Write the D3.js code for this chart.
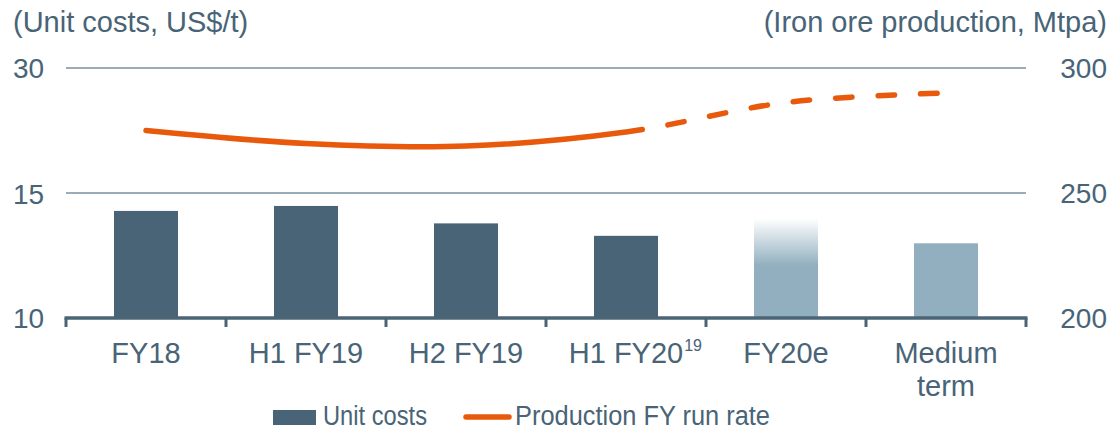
<!DOCTYPE html>
<html>
<head>
<meta charset="utf-8">
<script src="https://cdn.jsdelivr.net/npm/d3@7"></script>
<style>
  html, body { margin: 0; padding: 0; background: #fff; }
  svg { display: block; font-family: "Liberation Sans", Arial, sans-serif; }
</style>
</head>
<body>
<svg id="chart" width="1112" height="430"></svg>
<script>
// ---- data ----
const categories = ["FY18", "H1 FY19", "H2 FY19", "H1 FY20", "FY20e", "Medium term"];
const categoryLines = [["FY18"], ["H1 FY19"], ["H2 FY19"], ["H1 FY20"], ["FY20e"], ["Medium", "term"]];
const footnotes = ["", "", "", "19", "", ""];
const unitCosts = [14.3, 14.5, 13.8, 13.3, 14.0, 13.0];
const barKinds = ["actual", "actual", "actual", "actual", "estimate", "target"];
const estimateSolidUpTo = 12.1;          // FY20e bar fades out above this value
const production = [275, 269.8, 268.8, 274.4, 286.2, 290];
const productionDashedFrom = 3;          // index where the forecast (dashed) part starts
const leftTicks = [10, 15, 30];
const rightTicks = [200, 250, 300];
const leftTitle = "(Unit costs, US$/t)";
const rightTitle = "(Iron ore production, Mtpa)";
const legendItems = ["Unit costs", "Production FY run rate"];

// ---- styles ----
const textColor = "#486476";
const gridColor = "#7890a0";
const axisColor = "#4b6577";
const darkBar = "#486476";
const lightBar = "#91afbf";
const orange = "#e8590c";

const svg = d3.select("#chart");
const pLeft = 66, pRight = 1026, pTop = 68, pBottom = 318;

const x = d3.scaleBand().domain(categories).range([pLeft, pRight]).paddingInner(0.6).paddingOuter(0.3);
const xEdges = d3.scaleBand().domain(categories).range([pLeft, pRight]).padding(0);
const yL = d3.scaleLinear().domain(leftTicks).range([pBottom, 193.5, pTop]);
const yR = d3.scaleLinear().domain([rightTicks[0], rightTicks[rightTicks.length - 1]]).range([pBottom, pTop]);

// gradient for estimate bar
const defs = svg.append("defs");
const grad = defs.append("linearGradient").attr("id", "fade")
  .attr("gradientUnits", "userSpaceOnUse")
  .attr("x1", 0).attr("x2", 0)
  .attr("y1", yL(unitCosts[barKinds.indexOf("estimate")]))
  .attr("y2", yL(estimateSolidUpTo));
grad.append("stop").attr("offset", 0).attr("stop-color", lightBar).attr("stop-opacity", 0);
grad.append("stop").attr("offset", 1).attr("stop-color", lightBar).attr("stop-opacity", 1);

// gridlines (not the baseline)
svg.append("g").selectAll("line").data(rightTicks.slice(1)).join("line")
  .attr("x1", pLeft).attr("x2", pRight)
  .attr("y1", d => yR(d)).attr("y2", d => yR(d))
  .attr("stroke", gridColor).attr("stroke-width", 1.5);

// bars
svg.append("g").selectAll("rect").data(categories).join("rect")
  .attr("x", d => x(d))
  .attr("width", x.bandwidth())
  .attr("y", (d, i) => yL(unitCosts[i]))
  .attr("height", (d, i) => yL(leftTicks[0]) - yL(unitCosts[i]))
  .attr("fill", (d, i) => barKinds[i] === "actual" ? darkBar : barKinds[i] === "estimate" ? "url(#fade)" : lightBar);

// x axis line and ticks
const xAxis = svg.append("g");
xAxis.append("line").attr("x1", pLeft - 1.5).attr("x2", pRight + 1.5)
  .attr("y1", pBottom).attr("y2", pBottom)
  .attr("stroke", axisColor).attr("stroke-width", 3.5);
const edges = categories.map(c => xEdges(c)).concat([pRight]);
xAxis.selectAll("line.tick").data(edges).join("line").attr("class", "tick")
  .attr("x1", d => d).attr("x2", d => d)
  .attr("y1", pBottom).attr("y2", pBottom + 9)
  .attr("stroke", axisColor).attr("stroke-width", 3);

// x labels
const labels = svg.append("g").attr("fill", textColor).attr("font-size", 29);
categories.forEach((c, i) => {
  const cx = xEdges(c) + xEdges.bandwidth() / 2;
  const t = labels.append("text").attr("x", cx).attr("y", 363).attr("text-anchor", "middle");
  categoryLines[i].forEach((line, j) => {
    t.append("tspan").attr("x", cx).attr("dy", j === 0 ? 0 : 33).text(line);
  });
  if (footnotes[i]) {
    const w = t.node().getComputedTextLength();
    labels.append("text").attr("x", cx + w / 2 + 1).attr("y", 351)
      .attr("font-size", 16).text(footnotes[i]);
  }
});

// y tick labels
svg.append("g").attr("fill", textColor).attr("font-size", 28)
  .selectAll("text").data(leftTicks).join("text")
  .attr("x", 13).attr("y", d => yL(d) + 10).text(d => d);
svg.append("g").attr("fill", textColor).attr("font-size", 28).attr("text-anchor", "end")
  .selectAll("text").data(rightTicks).join("text")
  .attr("x", 1107).attr("y", d => yR(d) + 10).text(d => d);

// axis titles
svg.append("text").attr("x", 13).attr("y", 32).attr("fill", textColor).attr("font-size", 29).text(leftTitle);
svg.append("text").attr("x", 1107).attr("y", 32).attr("text-anchor", "end").attr("fill", textColor).attr("font-size", 29).text(rightTitle);

// production line
const cxOf = i => xEdges(categories[i]) + xEdges.bandwidth() / 2;
const lineGen = d3.line().x((d, i) => cxOf(i)).y(d => yR(d)).curve(d3.curveCatmullRom.alpha(0.5));
const splitX = cxOf(productionDashedFrom);
defs.append("clipPath").attr("id", "clipSolid").append("rect")
  .attr("x", 0).attr("y", 0).attr("width", splitX).attr("height", 430);
defs.append("clipPath").attr("id", "clipDash").append("rect")
  .attr("x", splitX).attr("y", 0).attr("width", 1112 - splitX).attr("height", 430);

const solid = svg.append("path").datum(production).attr("d", lineGen)
  .attr("fill", "none").attr("stroke", orange).attr("stroke-width", 5.5)
  .attr("stroke-linecap", "round").attr("clip-path", "url(#clipSolid)");

// find path length at splitX
const node = solid.node();
const total = node.getTotalLength();
let lo = 0, hi = total;
for (let k = 0; k < 40; k++) {
  const mid = (lo + hi) / 2;
  if (node.getPointAtLength(mid).x < splitX) lo = mid; else hi = mid;
}
svg.append("path").datum(production).attr("d", lineGen)
  .attr("fill", "none").attr("stroke", orange).attr("stroke-width", 5.5)
  .attr("stroke-linecap", "round")
  .attr("stroke-dasharray", "16.5 26")
  .attr("stroke-dashoffset", -lo)
  .attr("clip-path", "url(#clipDash)");

// legend
const lg = svg.append("g");
lg.append("rect").attr("x", 273).attr("y", 410).attr("width", 43).attr("height", 15).attr("fill", darkBar);
lg.append("text").attr("x", 323).attr("y", 425).attr("fill", textColor).attr("font-size", 27)
  .attr("textLength", 104).attr("lengthAdjust", "spacingAndGlyphs").text(legendItems[0]);
lg.append("line").attr("x1", 466).attr("x2", 509).attr("y1", 417).attr("y2", 417)
  .attr("stroke", orange).attr("stroke-width", 5.5).attr("stroke-linecap", "round");
lg.append("text").attr("x", 515).attr("y", 425).attr("fill", textColor).attr("font-size", 27)
  .attr("textLength", 255).attr("lengthAdjust", "spacingAndGlyphs").text(legendItems[1]);
</script>
</body>
</html>
